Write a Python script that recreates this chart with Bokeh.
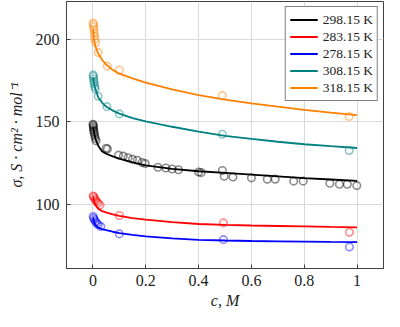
from bokeh.plotting import figure
from bokeh.models import FixedTicker, Range1d, Legend, LegendItem
from bokeh.embed import file_html
from bokeh.resources import INLINE

# ---- data ----
series_names = ["298.15 K", "283.15 K", "278.15 K", "308.15 K", "318.15 K"]
series_colors = ["#000000", "#ff0000", "#0000ff", "#008080", "#ff8000"]

# measured points (c, sigma)
c_298 = [0.0005, 0.001, 0.0015, 0.002, 0.003, 0.004, 0.005, 0.007, 0.009, 0.012,
         0.05, 0.055, 0.097, 0.115, 0.133, 0.15, 0.168, 0.186, 0.198,
         0.246, 0.276, 0.30, 0.324, 0.40, 0.41, 0.49, 0.497, 0.53, 0.60,
         0.66, 0.69, 0.76, 0.796, 0.897, 0.933, 0.963, 0.999]
s_298 = [148.5, 148.0, 147.0, 146.0, 145.0, 144.0, 143.0, 141.5, 140.0, 138.5,
         134.0, 133.5, 129.8, 129.2, 128.2, 127.3, 126.7, 125.3, 124.7,
         122.4, 122.0, 121.4, 120.9, 119.5, 119.2, 120.5, 117.0, 116.5, 116.0,
         115.2, 115.2, 114.0, 114.0, 112.7, 112.1, 112.1, 111.3]

c_283 = [0.001, 0.003, 0.006, 0.01, 0.015, 0.02, 0.027, 0.1, 0.494, 0.971]
s_283 = [105.0, 104.5, 103.5, 102.5, 101.5, 100.5, 99.5, 93.2, 88.7, 83.0]

c_278 = [0.001, 0.003, 0.006, 0.01, 0.015, 0.02, 0.03, 0.1, 0.494, 0.971]
s_278 = [92.5, 91.5, 90.5, 89.5, 88.5, 87.5, 86.5, 82.0, 78.5, 74.1]

c_308 = [0.001, 0.002, 0.003, 0.004, 0.005, 0.007, 0.009, 0.02, 0.053, 0.1, 0.49, 0.97]
s_308 = [178.5, 177.5, 176.0, 174.5, 173.0, 171.5, 170.0, 165.5, 159.2, 154.8, 142.5, 132.6]

c_318 = [0.001, 0.002, 0.003, 0.004, 0.005, 0.006, 0.008, 0.01, 0.02, 0.054, 0.1, 0.49, 0.97]
s_318 = [210.0, 209.0, 207.5, 206.0, 204.0, 202.0, 200.0, 198.0, 192.0, 183.8, 181.3, 165.9, 153.2]

# fitted curves, read at these concentrations
c_fit = [0.001, 0.005, 0.01, 0.02, 0.035, 0.05, 0.075, 0.1, 0.15, 0.2,
         0.3, 0.4, 0.5, 0.6, 0.7, 0.8, 0.9, 1.0]
fit_298 = [147.0, 143.0, 139.5, 135.5, 132.0, 130.6, 129.0, 127.7, 125.4, 123.6,
           121.4, 120.0, 119.0, 118.0, 116.9, 115.8, 115.0, 114.2]
fit_283 = [104.9, 101.5, 99.5, 97.3, 95.8, 95.0, 93.8, 92.9, 91.6, 90.6,
           89.1, 88.0, 87.5, 87.1, 86.8, 86.5, 86.2, 86.0]
fit_278 = [92.0, 89.0, 87.3, 85.8, 84.9, 84.3, 83.3, 82.5, 81.4, 80.5,
           79.3, 78.4, 78.0, 77.7, 77.5, 77.3, 77.1, 77.0]
fit_308 = [177.0, 172.5, 169.5, 165.0, 161.5, 159.3, 156.8, 155.0, 152.3, 150.2,
           147.0, 144.0, 141.5, 139.6, 137.9, 136.4, 135.2, 134.1]
fit_318 = [206.0, 199.0, 195.5, 191.5, 187.5, 184.8, 181.5, 179.2, 176.3, 173.8,
           169.7, 166.2, 163.4, 161.2, 159.2, 157.3, 155.6, 154.0]

x_ticks = [0, 0.2, 0.4, 0.6, 0.8, 1]
x_tick_labels = ["0", "0.2", "0.4", "0.6", "0.8", "1"]
y_ticks = [100, 150, 200]

points = [(c_298, s_298), (c_283, s_283), (c_278, s_278), (c_308, s_308), (c_318, s_318)]
fits = [fit_298, fit_283, fit_278, fit_308, fit_318]

SERIF = "Liberation Serif"

p = figure(width=384, height=311, output_backend="svg", toolbar_location=None,
           x_range=Range1d(-0.1, 1.1), y_range=Range1d(61, 223),
           min_border_left=66, min_border_right=1, min_border_top=1, min_border_bottom=38)
p.background_fill_color = "white"
p.border_fill_color = "white"
p.outline_line_color = "#404040"
p.outline_line_width = 1

for ax in (p.xaxis[0], p.yaxis[0]):
    ax.axis_line_color = "#404040"
    ax.major_tick_in = 4
    ax.major_tick_out = 0
    ax.minor_tick_in = 0
    ax.minor_tick_out = 0
    ax.major_tick_line_color = "#404040"
    ax.major_label_text_font = SERIF
    ax.major_label_text_font_size = "16px"
    ax.major_label_text_color = "#222222"
    ax.axis_label_text_font = SERIF
    ax.axis_label_text_font_size = "16px"
    ax.axis_label_text_font_style = "italic"
    ax.axis_label_text_color = "#222222"

p.xaxis.ticker = FixedTicker(ticks=x_ticks)
p.xaxis.major_label_overrides = {t: l for t, l in zip(x_ticks, x_tick_labels)}
p.yaxis.ticker = FixedTicker(ticks=y_ticks)
p.xaxis.major_label_standoff = 6
p.yaxis.major_label_standoff = 7
p.xaxis.axis_label = "c, M"
p.yaxis.axis_label = "σ, S · cm² · mol⁻¹"
p.xaxis.axis_label_standoff = 3
p.yaxis.axis_label_standoff = 8

p.grid.grid_line_color = "#d9d9d9"
p.grid.grid_line_width = 1
p.xgrid.ticker = FixedTicker(ticks=x_ticks)
p.ygrid.ticker = FixedTicker(ticks=y_ticks)

items = []
for (cx, sy), col in zip(points, series_colors):
    p.scatter(cx, sy, marker="circle", size=7.5, fill_color=None,
              line_color=col, line_alpha=0.45, line_width=1.6)
for fy, name, col in zip(fits, series_names, series_colors):
    r = p.line(c_fit, fy, line_color=col, line_width=1.8)
    items.append(LegendItem(label=name, renderers=[r]))

legend = Legend(items=items, location="top_right")
legend.label_text_font = SERIF
legend.label_text_font_size = "13.5px"
legend.label_text_color = "#222222"
legend.border_line_color = "#000000"
legend.border_line_width = 1
legend.background_fill_alpha = 1
legend.padding = 4
legend.spacing = 0
legend.margin = 5
legend.glyph_width = 28
legend.glyph_height = 17
legend.label_height = 17
legend.label_standoff = 5
p.add_layout(legend)

open("out.html", "w").write(file_html(p, INLINE))
